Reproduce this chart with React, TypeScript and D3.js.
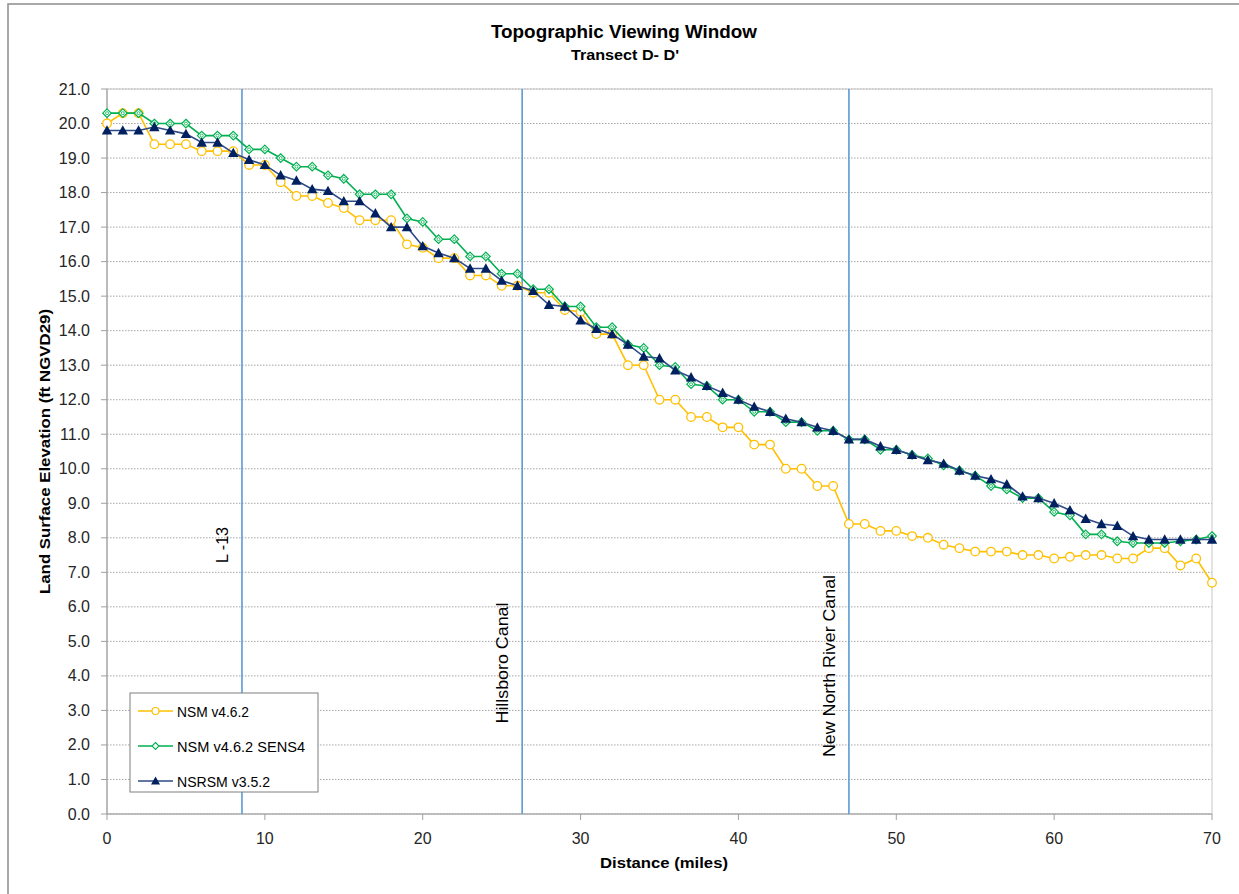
import React from "react";
import * as d3 from "d3";

const miles: number[] = Array.from({ length: 71 }, (_, i) => i);

const nsm462: number[] = [
  20.0, 20.3, 20.3, 19.4, 19.4, 19.4, 19.2, 19.2, 19.2, 18.8,
  18.8, 18.3, 17.9, 17.9, 17.7, 17.55, 17.2, 17.2, 17.2, 16.5,
  16.4, 16.1, 16.1, 15.6, 15.6, 15.3, 15.3, 15.1, 15.1, 14.6,
  14.55, 13.9, 13.9, 13.0, 13.0, 12.0, 12.0, 11.5, 11.5, 11.2,
  11.2, 10.7, 10.7, 10.0, 10.0, 9.5, 9.5, 8.4, 8.4, 8.2,
  8.2, 8.05, 8.0, 7.8, 7.7, 7.6, 7.6, 7.6, 7.5, 7.5,
  7.4, 7.45, 7.5, 7.5, 7.4, 7.4, 7.7, 7.7, 7.2, 7.4,
  6.7,
];

const nsm462sens4: number[] = [
  20.3, 20.3, 20.3, 20.0, 20.0, 20.0, 19.65, 19.65, 19.65, 19.25,
  19.25, 19.0, 18.75, 18.75, 18.5, 18.4, 17.95, 17.95, 17.95, 17.25,
  17.15, 16.65, 16.65, 16.15, 16.15, 15.65, 15.65, 15.2, 15.2, 14.7,
  14.7, 14.1, 14.1, 13.6, 13.5, 13.0, 12.95, 12.45, 12.4, 12.0,
  12.0, 11.65, 11.65, 11.35, 11.35, 11.1, 11.1, 10.85, 10.85, 10.55,
  10.55, 10.4, 10.3, 10.1, 9.95, 9.8, 9.5, 9.4, 9.15, 9.15,
  8.75, 8.65, 8.1, 8.1, 7.9, 7.85, 7.85, 7.85, 7.9, 7.95,
  8.05,
];

const nsrsm352: number[] = [
  19.8, 19.8, 19.8, 19.9, 19.8, 19.7, 19.45, 19.45, 19.15, 18.95,
  18.8, 18.5, 18.35, 18.1, 18.05, 17.75, 17.75, 17.4, 17.0, 17.0,
  16.45, 16.25, 16.1, 15.8, 15.8, 15.45, 15.3, 15.15, 14.75, 14.7,
  14.3, 14.05, 13.9, 13.6, 13.25, 13.2, 12.85, 12.65, 12.4, 12.2,
  12.0, 11.8, 11.65, 11.45, 11.35, 11.2, 11.1, 10.85, 10.85, 10.65,
  10.55, 10.4, 10.25, 10.15, 9.95, 9.8, 9.7, 9.55, 9.2, 9.15,
  9.0, 8.8, 8.55, 8.4, 8.35, 8.05, 7.95, 7.95, 7.95, 7.95,
  7.95,
];

const markerMiles: number[] = [8.55, 26.3, 47.0];
const markerLabels: string[] = ["L -13", "Hillsboro Canal", "New North River Canal"];

const seriesNames: string[] = ["NSM v4.6.2", "NSM v4.6.2 SENS4", "NSRSM v3.5.2"];
const seriesColors: string[] = ["#FFC000", "#00B050", "#1F3A78"];
const yTicks: number[] = d3.range(0, 21.01, 1);
const xTicks: number[] = d3.range(0, 71, 10);

const W = 1239;
const H = 894;
const M = { left: 107, right: 1212, top: 89, bottom: 814 };
const FONT = "'Liberation Sans', Arial, sans-serif";

export default function App() {
  const x = d3.scaleLinear().domain([0, 70]).range([M.left, M.right]);
  const y = d3.scaleLinear().domain([0, 21]).range([M.bottom, M.top]);
  const line = d3
    .line<[number, number]>()
    .x((d) => x(d[0]))
    .y((d) => y(d[1]));

  const allSeries = [nsm462, nsm462sens4, nsrsm352].map((vals) =>
    miles.map((m, i) => [m, vals[i]] as [number, number])
  );

  const marker = (k: number, cx: number, cy: number, key: string | number) => {
    if (k === 0)
      return (
        <circle key={key} cx={cx} cy={cy} r={4.3} fill="#fff" stroke={seriesColors[0]} strokeWidth={1.3} />
      );
    if (k === 1) {
      const s = 4.3;
      return (
        <g key={key}>
          <path
            d={`M${cx},${cy - s}L${cx + s},${cy}L${cx},${cy + s}L${cx - s},${cy}Z`}
            fill="#fff"
            stroke={seriesColors[1]}
            strokeWidth={1.2}
          />
          <circle cx={cx} cy={cy} r={1.5} fill="none" stroke={seriesColors[1]} strokeWidth={0.8} />
        </g>
      );
    }
    const s = 5.2;
    return (
      <path
        key={key}
        d={`M${cx},${cy - s}L${cx + s},${cy + s * 0.8}L${cx - s},${cy + s * 0.8}Z`}
        fill="#002060"
      />
    );
  };

  const lineColors = ["#FFC000", "#00B050", "#2E4A86"];
  const labelCenters = [545, 663, 666];
  const labelLengths = [36, 121, 182];

  return (
    <svg
      width={W}
      height={H}
      style={{ position: "absolute", left: 0, top: 0, background: "#fff" }}
      fontFamily={FONT}
    >
      <rect x={0} y={0} width={W} height={H} fill="#fff" />
      {/* outer frame */}
      <rect x={8} y={4} width={W} height={H} fill="none" stroke="#8c8c8c" strokeWidth={1.5} />

      {/* title */}
      <text
        x={624}
        y={38}
        textAnchor="middle"
        fontSize={18}
        fontWeight="bold"
        fill="#000"
        textLength={266}
        lengthAdjust="spacingAndGlyphs"
      >
        Topographic Viewing Window
      </text>
      <text
        x={625}
        y={60}
        textAnchor="middle"
        fontSize={14}
        fontWeight="bold"
        fill="#000"
        textLength={108}
        lengthAdjust="spacingAndGlyphs"
      >
        Transect D- D'
      </text>

      {/* gridlines */}
      {yTicks.map((t) => (
        <line
          key={"g" + t}
          x1={M.left}
          x2={M.right}
          y1={y(t)}
          y2={y(t)}
          stroke="#a6a6a6"
          strokeWidth={1}
          strokeDasharray="1.5,1.5"
        />
      ))}

      {/* plot border */}
      <rect
        x={M.left}
        y={M.top}
        width={M.right - M.left}
        height={M.bottom - M.top}
        fill="none"
        stroke="#c8c8c8"
        strokeWidth={1}
      />
      <line x1={M.left} x2={M.left} y1={M.top} y2={M.bottom} stroke="#a0a0a0" strokeWidth={1.2} />
      <line x1={M.left} x2={M.right} y1={M.bottom} y2={M.bottom} stroke="#a0a0a0" strokeWidth={1.2} />

      {/* y ticks */}
      {yTicks.map((t) => (
        <g key={"y" + t}>
          <line x1={M.left - 6} x2={M.left} y1={y(t)} y2={y(t)} stroke="#a0a0a0" />
          <text x={90} y={y(t) + 5.5} textAnchor="end" fontSize={16} fill="#262626">
            {t.toFixed(1)}
          </text>
        </g>
      ))}
      {/* x ticks */}
      {xTicks.map((t) => (
        <g key={"x" + t}>
          <line x1={x(t)} x2={x(t)} y1={M.bottom} y2={M.bottom + 6} stroke="#a0a0a0" />
          <text x={x(t)} y={844} textAnchor="middle" fontSize={16} fill="#262626">
            {t}
          </text>
        </g>
      ))}

      {/* axis titles */}
      <text
        x={664}
        y={868}
        textAnchor="middle"
        fontSize={15}
        fontWeight="bold"
        fill="#000"
        textLength={128}
        lengthAdjust="spacingAndGlyphs"
      >
        Distance (miles)
      </text>
      <text
        transform={`translate(50,${(M.top + M.bottom) / 2}) rotate(-90)`}
        textAnchor="middle"
        fontSize={15}
        fontWeight="bold"
        fill="#000"
        textLength={285}
        lengthAdjust="spacingAndGlyphs"
      >
        Land Surface Elevation (ft NGVD29)
      </text>

      {/* vertical canal lines */}
      {markerMiles.map((m, i) => (
        <line key={"v" + i} x1={x(m)} x2={x(m)} y1={M.top} y2={M.bottom} stroke="#5B9BD5" strokeWidth={1.6} />
      ))}
      {markerMiles.map((m, i) => (
        <text
          key={"vl" + i}
          transform={`translate(${x(m) - 14},${labelCenters[i]}) rotate(-90)`}
          textAnchor="middle"
          fontSize={17}
          fill="#000"
          textLength={labelLengths[i]}
          lengthAdjust="spacingAndGlyphs"
        >
          {markerLabels[i]}
        </text>
      ))}

      {/* series */}
      {allSeries.map((pts, k) => (
        <g key={"s" + k}>
          <path d={line(pts) || ""} fill="none" stroke={lineColors[k]} strokeWidth={1.6} />
          {pts.map((p, i) => marker(k, x(p[0]), y(p[1]), i))}
        </g>
      ))}

      {/* legend */}
      <rect x={130} y={693} width={188} height={99} fill="#fff" stroke="#7f7f7f" strokeWidth={1} />
      {seriesNames.map((n, k) => {
        const ly = 711 + k * 35;
        return (
          <g key={"l" + k}>
            <line x1={138} x2={173} y1={ly} y2={ly} stroke={lineColors[k]} strokeWidth={1.6} />
            {k === 0 ? (
              <circle cx={155.5} cy={ly} r={3.5} fill="#fff" stroke={seriesColors[0]} strokeWidth={1.2} />
            ) : k === 1 ? (
              <path
                d={`M155.5,${ly - 3.5}L159,${ly}L155.5,${ly + 3.5}L152,${ly}Z`}
                fill="#fff"
                stroke={seriesColors[1]}
                strokeWidth={1.1}
              />
            ) : (
              <path d={`M155.5,${ly - 4.5}L160,${ly + 3.5}L151,${ly + 3.5}Z`} fill="#002060" />
            )}
            <text x={177} y={ly + 5.5} fontSize={15} fill="#000" textLength={[72, 128, 93][k]} lengthAdjust="spacingAndGlyphs">
              {n}
            </text>
          </g>
        );
      })}
    </svg>
  );
}
